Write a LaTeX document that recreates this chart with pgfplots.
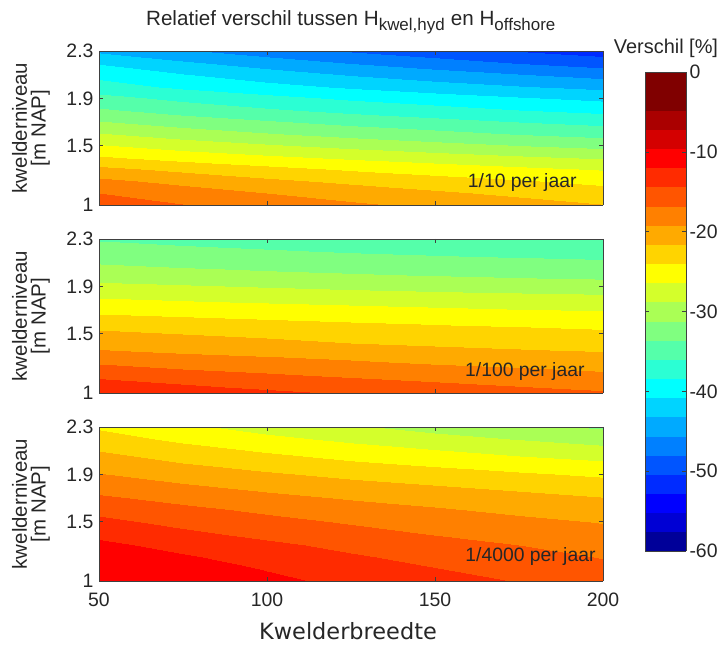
\documentclass[border=0pt]{standalone}
\usepackage{pgfplots}
\pgfplotsset{compat=1.18}
\usepackage{pgfplotstable}
\usepackage{fontspec}
\setmainfont{Liberation Sans}
\newfontfamily\verdana{DejaVu Sans}

\pgfplotsset{
  colormap={bands}{
    rgb=(0,0,0.6) rgb=(0,0,0.833) rgb=(0,0,1) rgb=(0,0.167,1)
    rgb=(0,0.333,1) rgb=(0,0.5,1) rgb=(0,0.667,1) rgb=(0,0.833,1)
    rgb=(0,1,1) rgb=(0.167,1,0.833) rgb=(0.333,1,0.667) rgb=(0.5,1,0.5)
    rgb=(0.667,1,0.333) rgb=(0.833,1,0.167) rgb=(1,1,0) rgb=(1,0.833,0)
    rgb=(1,0.667,0) rgb=(1,0.5,0) rgb=(1,0.333,0) rgb=(1,0.167,0)
    rgb=(1,0,0) rgb=(0.833,0,0) rgb=(0.667,0,0) rgb=(0.5,0,0)
    rgb=(0.5,0,0)
  },
  panel/.style={
    scale only axis, width=504bp, height=154bp, anchor=south west,
    view={0}{90}, xmin=50, xmax=200, ymin=1, ymax=2.3,
    xtick={50,100,150,200}, ytick={1,1.5,1.9,2.3},
    tick align=inside, major tick length=4bp,
    axis on top, axis line style={black!75, line width=0.6bp},
    every tick/.style={black!75, line width=0.6bp},
    colormap name=bands, colormap access=piecewise constant,
    point meta min=-60, point meta max=0,
    /pgf/number format/assume math mode=true,
    tick label style={font=\fontsize{19.5}{22}\selectfont, text=black!85},
    yticklabel style={xshift=-2bp},
    xticklabel style={yshift=-8bp},
  },
  field/.style={surf, shader=interp, mesh/cols=7, point meta=\thisrow{z}},
}

\pgfplotstableread{
x y z
50 1.0 -15.5
75 1.0 -16.7
100 1.0 -17.8
125 1.0 -18.8
150 1.0 -19.7
175 1.0 -20.6
200 1.0 -21.5
50 1.1 -16.8
75 1.1 -18.0
100 1.1 -19.2
125 1.1 -20.2
150 1.1 -21.2
175 1.1 -22.1
200 1.1 -23.0
50 1.2 -18.6
75 1.2 -19.9
100 1.2 -21.1
125 1.2 -22.1
150 1.2 -23.0
175 1.2 -23.8
200 1.2 -24.6
50 1.3 -21.0
75 1.3 -22.2
100 1.3 -23.3
125 1.3 -24.3
150 1.3 -25.1
175 1.3 -25.9
200 1.3 -26.6
50 1.4 -23.6
75 1.4 -24.8
100 1.4 -25.8
125 1.4 -26.7
150 1.4 -27.5
175 1.4 -28.3
200 1.4 -29.0
50 1.5 -26.1
75 1.5 -27.4
100 1.5 -28.4
125 1.5 -29.4
150 1.5 -30.3
175 1.5 -31.1
200 1.5 -31.8
50 1.6 -28.6
75 1.6 -29.9
100 1.6 -31.0
125 1.6 -32.0
150 1.6 -32.8
175 1.6 -33.7
200 1.6 -34.4
50 1.7 -31.0
75 1.7 -32.3
100 1.7 -33.3
125 1.7 -34.3
150 1.7 -35.2
175 1.7 -36.0
200 1.7 -36.7
50 1.8 -33.3
75 1.8 -34.6
100 1.8 -35.7
125 1.8 -36.7
150 1.8 -37.5
175 1.8 -38.4
200 1.8 -39.1
50 1.9 -35.2
75 1.9 -36.6
100 1.9 -37.7
125 1.9 -38.8
150 1.9 -39.7
175 1.9 -40.6
200 1.9 -41.4
50 2.0 -37.4
75 2.0 -38.8
100 2.0 -40.0
125 2.0 -41.1
150 2.0 -42.1
175 2.0 -43.0
200 2.0 -43.8
50 2.1 -39.0
75 2.1 -40.6
100 2.1 -42.0
125 2.1 -43.3
150 2.1 -44.4
175 2.1 -45.4
200 2.1 -46.4
50 2.2 -41.0
75 2.2 -42.8
100 2.2 -44.3
125 2.2 -45.7
150 2.2 -46.9
175 2.2 -48.1
200 2.2 -49.1
50 2.3 -43.6
75 2.3 -45.3
100 2.3 -46.8
125 2.3 -48.2
150 2.3 -49.4
175 2.3 -50.5
200 2.3 -51.5
}\tA

\pgfplotstableread{
x y z
50 1.0 -12.0
75 1.0 -13.0
100 1.0 -13.9
125 1.0 -14.6
150 1.0 -15.3
175 1.0 -15.9
200 1.0 -16.5
50 1.1 -14.0
75 1.1 -14.9
100 1.1 -15.6
125 1.1 -16.3
150 1.1 -16.9
175 1.1 -17.5
200 1.1 -18.0
50 1.2 -16.0
75 1.2 -16.8
100 1.2 -17.4
125 1.2 -18.0
150 1.2 -18.6
175 1.2 -19.0
200 1.2 -19.5
50 1.3 -17.9
75 1.3 -18.6
100 1.3 -19.1
125 1.3 -19.6
150 1.3 -20.1
175 1.3 -20.5
200 1.3 -20.9
50 1.4 -19.8
75 1.4 -20.4
100 1.4 -20.8
125 1.4 -21.3
150 1.4 -21.6
175 1.4 -22.0
200 1.4 -22.3
50 1.5 -21.0
75 1.5 -21.6
100 1.5 -22.0
125 1.5 -22.5
150 1.5 -22.8
175 1.5 -23.2
200 1.5 -23.5
50 1.6 -22.8
75 1.6 -23.2
100 1.6 -23.6
125 1.6 -24.0
150 1.6 -24.3
175 1.6 -24.5
200 1.6 -24.8
50 1.7 -24.6
75 1.7 -25.0
100 1.7 -25.4
125 1.7 -25.7
150 1.7 -26.0
175 1.7 -26.3
200 1.7 -26.5
50 1.8 -26.4
75 1.8 -26.8
100 1.8 -27.1
125 1.8 -27.4
150 1.8 -27.7
175 1.8 -28.0
200 1.8 -28.2
50 1.9 -28.2
75 1.9 -28.6
100 1.9 -29.0
125 1.9 -29.4
150 1.9 -29.7
175 1.9 -29.9
200 1.9 -30.2
50 2.0 -30.0
75 2.0 -30.4
100 2.0 -30.7
125 2.0 -31.0
150 2.0 -31.3
175 2.0 -31.6
200 2.0 -31.8
50 2.1 -31.3
75 2.1 -31.7
100 2.1 -32.1
125 2.1 -32.4
150 2.1 -32.7
175 2.1 -33.0
200 2.1 -33.2
50 2.2 -32.6
75 2.2 -33.0
100 2.2 -33.4
125 2.2 -33.8
150 2.2 -34.1
175 2.2 -34.3
200 2.2 -34.6
50 2.3 -33.8
75 2.3 -34.3
100 2.3 -34.7
125 2.3 -35.1
150 2.3 -35.4
175 2.3 -35.7
200 2.3 -36.0
}\tB

\pgfplotstableread{
x y z
50 1.0 -9.6
75 1.0 -10.5
100 1.0 -11.5
125 1.0 -12.5
150 1.0 -13.5
175 1.0 -14.5
200 1.0 -15.5
50 1.1 -9.9
75 1.1 -11.0
100 1.1 -12.1
125 1.1 -13.2
150 1.1 -14.3
175 1.1 -15.3
200 1.1 -16.2
50 1.2 -10.4
75 1.2 -11.7
100 1.2 -13.0
125 1.2 -14.1
150 1.2 -15.1
175 1.2 -16.0
200 1.2 -16.9
50 1.3 -11.4
75 1.3 -12.8
100 1.3 -13.9
125 1.3 -15.0
150 1.3 -15.9
175 1.3 -16.8
200 1.3 -17.6
50 1.4 -12.6
75 1.4 -13.9
100 1.4 -15.0
125 1.4 -16.0
150 1.4 -16.9
175 1.4 -17.7
200 1.4 -18.5
50 1.5 -13.8
75 1.5 -15.0
100 1.5 -16.1
125 1.5 -17.0
150 1.5 -17.8
175 1.5 -18.6
200 1.5 -19.3
50 1.6 -15.0
75 1.6 -16.2
100 1.6 -17.2
125 1.6 -18.1
150 1.6 -18.9
175 1.6 -19.7
200 1.6 -20.4
50 1.7 -16.4
75 1.7 -17.5
100 1.7 -18.5
125 1.7 -19.4
150 1.7 -20.1
175 1.7 -20.8
200 1.7 -21.5
50 1.8 -17.8
75 1.8 -18.9
100 1.8 -19.9
125 1.8 -20.8
150 1.8 -21.5
175 1.8 -22.2
200 1.8 -22.9
50 1.9 -19.1
75 1.9 -20.3
100 1.9 -21.3
125 1.9 -22.2
150 1.9 -23.0
175 1.9 -23.7
200 1.9 -24.4
50 2.0 -20.3
75 2.0 -21.6
100 2.0 -22.7
125 2.0 -23.7
150 2.0 -24.5
175 2.0 -25.4
200 2.0 -26.1
50 2.1 -21.6
75 2.1 -23.0
100 2.1 -24.2
125 2.1 -25.3
150 2.1 -26.2
175 2.1 -27.1
200 2.1 -27.9
50 2.2 -23.0
75 2.2 -24.5
100 2.2 -25.8
125 2.2 -26.9
150 2.2 -28.0
175 2.2 -28.9
200 2.2 -29.8
50 2.3 -24.3
75 2.3 -25.9
100 2.3 -27.3
125 2.3 -28.5
150 2.3 -29.6
175 2.3 -30.6
200 2.3 -31.5
}\tC

\pgfplotstableread{
x y z
0 -60 -60
1 -60 -60
0 0 0
1 0 0
}\tBar

\begin{document}
\begin{tikzpicture}
\path[use as bounding box] (0,0) rectangle (725bp,648bp);

\begin{axis}[panel, at={(99bp,443bp)}, xticklabels={}]
\addplot3[field] table[x=x,y=y,z=z] {\tA};
\end{axis}

\begin{axis}[panel, at={(99bp,255bp)}, xticklabels={}]
\addplot3[field] table[x=x,y=y,z=z] {\tB};
\end{axis}

\begin{axis}[panel, at={(99bp,67bp)}]
\addplot3[field] table[x=x,y=y,z=z] {\tC};
\end{axis}

\begin{axis}[scale only axis, width=41bp, height=479bp, anchor=south west,
  at={(645bp,97bp)}, view={0}{90}, xmin=0, xmax=1, ymin=-60, ymax=0,
  xtick=\empty, ytick={-60,-50,...,0}, yticklabel pos=right, ytick pos=both,
  tick align=inside, major tick length=4bp,
  axis on top, axis line style={black!75, line width=0.6bp},
  every tick/.style={black!75, line width=0.6bp},
  colormap name=bands, colormap access=piecewise constant,
  point meta min=-60, point meta max=0,
  /pgf/number format/assume math mode=true,
  tick label style={font=\fontsize{19.5}{22}\selectfont, text=black!85}]
\addplot3[surf, shader=interp, mesh/cols=2, point meta=\thisrow{z}] table[x=x,y=y,z=z] {\tBar};
\end{axis}

\node[font=\fontsize{20.7}{24}\selectfont, text=black!85] at (351bp,626bp)
  {Relatief verschil tussen H$_{\mbox{\fontsize{17}{19}\selectfont kwel,hyd}}$ en H$_{\mbox{\fontsize{17}{19}\selectfont offshore}}$};
\node[font=\fontsize{20}{22}\selectfont, text=black!85] at (666bp,600bp) {Verschil [\%]};
\node[font=\verdana\fontsize{22.5}{26}\selectfont, text=black!85] at (348bp,17bp) {Kwelderbreedte};

\foreach \yc in {520,332,144}{
  \node[rotate=90, align=center, font=\fontsize{20.5}{19}\selectfont, text=black!85] at (31bp,\yc bp) {kwelderniveau\\{}[m NAP]};
}
\node[anchor=east, font=\fontsize{19.4}{22}\selectfont, text=black!85] at (580bp,465bp) {1/10 per jaar};
\node[anchor=east, font=\fontsize{19.4}{22}\selectfont, text=black!85] at (588bp,276bp) {1/100 per jaar};
\node[anchor=east, font=\fontsize{19.4}{22}\selectfont, text=black!85] at (599bp,91bp) {1/4000 per jaar};
\end{tikzpicture}
\end{document}
